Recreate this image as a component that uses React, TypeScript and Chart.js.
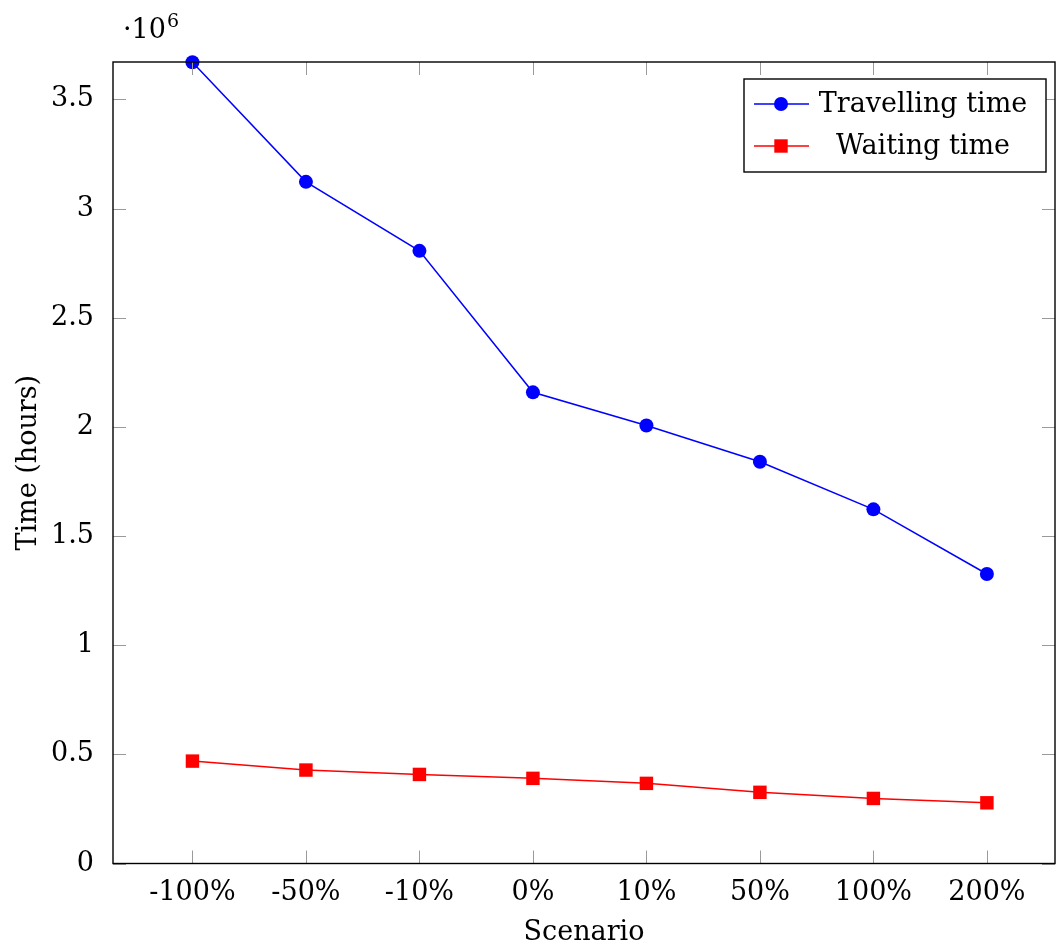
import React, { useEffect, useRef } from "react";
import { Chart, registerables } from "chart.js";

Chart.register(...registerables);

const categories = ["-100%", "-50%", "-10%", "0%", "10%", "50%", "100%", "200%"];
const travellingTime = [3670000, 3122000, 2806000, 2158000, 2006000, 1840000, 1622000, 1326000];
const waitingTime = [469000, 428000, 408000, 390000, 367000, 326000, 298000, 278000];
const yTickValues = [0, 500000, 1000000, 1500000, 2000000, 2500000, 3000000, 3500000];
const seriesLabels = ["Travelling time", "Waiting time"];

const FONT = "'DejaVu Serif', serif";
const FS = 27;

const framePlugin = {
  id: "pgfFrame",
  afterDatasetsDraw(chart: any) {
    const { ctx, chartArea } = chart;
    const { left, right, top, bottom } = chartArea;
    const xs = chart.scales.x;
    const ys = chart.scales.y;
    ctx.save();
    ctx.strokeStyle = "#9a9a9a";
    ctx.lineWidth = 1;
    const tl = 13;
    ctx.beginPath();
    xs.ticks.forEach((t: any) => {
      const px = Math.round(xs.getPixelForValue(t.value)) + 0.5;
      ctx.moveTo(px, bottom);
      ctx.lineTo(px, bottom - tl);
      ctx.moveTo(px, top);
      ctx.lineTo(px, top + tl);
    });
    ys.ticks.forEach((t: any) => {
      const py = Math.round(ys.getPixelForValue(t.value)) + 0.5;
      ctx.moveTo(left, py);
      ctx.lineTo(left + tl, py);
      ctx.moveTo(right, py);
      ctx.lineTo(right - tl, py);
    });
    ctx.stroke();
    ctx.strokeStyle = "#000";
    ctx.lineWidth = 1.4;
    ctx.strokeRect(left, top, right - left, bottom - top);
    ctx.restore();
  },
  afterDraw(chart: any) {
    const { ctx, chartArea } = chart;
    ctx.save();
    ctx.fillStyle = "#000";
    ctx.textBaseline = "alphabetic";
    ctx.textAlign = "left";
    ctx.font = `${FS}px ${FONT}`;
    const base = "\u00b710";
    ctx.fillText(base, chartArea.left + 10, 38);
    const w = ctx.measureText(base).width;
    ctx.font = `${Math.round(FS * 0.72)}px ${FONT}`;
    ctx.fillText("6", chartArea.left + 10 + w + 1, 27);

    const bx = 744, by = 79, bw = 302, bh = 93;
    ctx.fillStyle = "#fff";
    ctx.fillRect(bx, by, bw, bh);
    ctx.strokeStyle = "#000";
    ctx.lineWidth = 1.4;
    ctx.strokeRect(bx, by, bw, bh);
    const rowY = [104, 146];
    chart.data.datasets.forEach((ds: any, i: number) => {
      const y = rowY[i];
      ctx.strokeStyle = ds.borderColor;
      ctx.lineWidth = 1.5;
      ctx.beginPath();
      ctx.moveTo(754, y);
      ctx.lineTo(809, y);
      ctx.stroke();
      ctx.fillStyle = ds.backgroundColor;
      if (ds.pointStyle === "rect") {
        ctx.fillRect(781 - 6.7, y - 6.7, 13.4, 13.4);
      } else {
        ctx.beginPath();
        ctx.arc(781, y, 7, 0, Math.PI * 2);
        ctx.fill();
      }
      ctx.fillStyle = "#000";
      ctx.font = `${FS}px ${FONT}`;
      ctx.textAlign = "center";
      ctx.textBaseline = "middle";
      ctx.fillText(ds.label, 923, y + 1);
    });
    ctx.restore();
  },
};

export default function App() {
  const ref = useRef<HTMLCanvasElement | null>(null);
  useEffect(() => {
    document.body.style.margin = "0";
    if (!ref.current) return;
    const chart = new Chart(ref.current, {
      type: "line",
      data: {
        datasets: [
          {
            label: seriesLabels[0],
            data: travellingTime.map((v, i) => ({ x: i, y: v })),
            borderColor: "#0000ff",
            backgroundColor: "#0000ff",
            borderWidth: 1.5,
            pointStyle: "circle",
            pointRadius: 7,
            pointBorderWidth: 0,
            tension: 0,
          },
          {
            label: seriesLabels[1],
            data: waitingTime.map((v, i) => ({ x: i, y: v })),
            borderColor: "#ff0000",
            backgroundColor: "#ff0000",
            borderWidth: 1.5,
            pointStyle: "rect",
            pointRadius: 9.5,
            pointBorderWidth: 0,
            tension: 0,
          },
        ],
      },
      options: {
        responsive: false,
        animation: false,
        devicePixelRatio: 1,
        clip: false,
        layout: { autoPadding: false, padding: { top: 62, right: 1, left: 0, bottom: 0 } },
        plugins: {
          legend: { display: false },
          tooltip: { enabled: false },
        },
        scales: {
          x: {
            type: "linear",
            min: -0.7,
            max: 7.6,
            grid: { display: false },
            border: { display: false },
            afterBuildTicks: (scale: any) => {
              scale.ticks = categories.map((_, i) => ({ value: i }));
            },
            afterFit: (scale: any) => {
              scale.height = 85.5;
              scale.paddingLeft = 0;
              scale.paddingRight = 0;
            },
            ticks: {
              autoSkip: false,
              maxRotation: 0,
              padding: 5,
              color: "#000",
              font: { family: FONT, size: FS },
              callback: (v: any) => categories[Math.round(Number(v))] ?? "",
            },
            title: {
              display: true,
              text: "Scenario",
              color: "#000",
              font: { family: FONT, size: FS },
              padding: 0,
            },
          },
          y: {
            type: "linear",
            min: 0,
            max: 3671000,
            grid: { display: false },
            border: { display: false },
            afterBuildTicks: (scale: any) => {
              scale.ticks = yTickValues.map((v) => ({ value: v }));
            },
            afterFit: (scale: any) => {
              scale.width = 113;
              scale.paddingTop = 0;
              scale.paddingBottom = 0;
            },
            ticks: {
              padding: 11,
              color: "#000",
              font: { family: FONT, size: FS },
              callback: (v: any) => String(Number(v) / 1e6),
            },
            title: {
              display: true,
              text: "Time (hours)",
              color: "#000",
              font: { family: FONT, size: FS },
              padding: { top: 13, bottom: 0 },
            },
          },
        },
      },
      plugins: [framePlugin],
    });
    return () => chart.destroy();
  }, []);
  return (
    <div style={{ width: 1056, height: 949, position: "relative" }}>
      <canvas ref={ref} width={1056} height={949} style={{ display: "block" }} />
    </div>
  );
}
